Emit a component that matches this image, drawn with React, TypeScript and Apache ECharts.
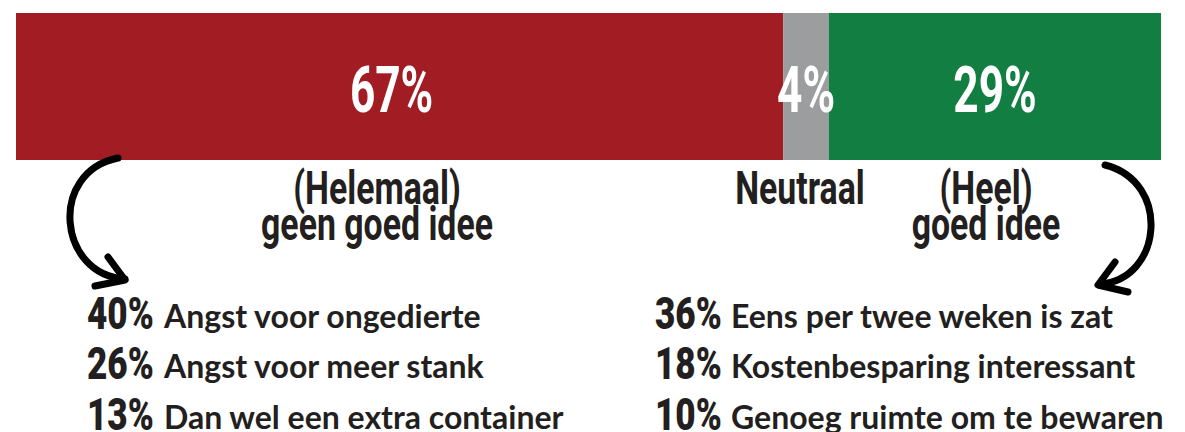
import React, { useEffect, useRef } from "react";
import * as echarts from "echarts";

const categories = ["(Helemaal) geen goed idee", "Neutraal", "(Heel) goed idee"];
const shares = [67, 4, 29];
const colors = ["#A11D23", "#9B9D9F", "#127E41"];

const negPct = [40, 26, 13];
const negLabels = ["Angst voor ongedierte", "Angst voor meer stank", "Dan wel een extra container"];
const posPct = [36, 18, 10];
const posLabels = ["Eens per twee weken is zat", "Kostenbesparing interessant", "Genoeg ruimte om te bewaren"];

const COND = "Roboto, 'DejaVu Sans', sans-serif";
const LATO = "Lato, 'Open Sans', sans-serif";
const INK = "#231F20";

export default function App() {
  const ref = useRef<HTMLDivElement>(null);
  useEffect(() => {
    document.body.style.margin = "0";
    const chart = echarts.init(ref.current!, null, { renderer: "svg" });
    const option: any = {
      animation: false,
      grid: { left: 16, right: 24, top: 13, bottom: 272 },
      xAxis: { type: "value", min: 0, max: 100, show: false },
      yAxis: { type: "category", data: ["score"], show: false },
      series: shares.map((v, i) => ({
        name: categories[i],
        type: "bar",
        stack: "total",
        barWidth: "100%",
        data: [v],
        itemStyle: { color: colors[i] },
        label: { show: false },
      })),
    };
    chart.setOption(option);

    const graphics: any[] = [];
    let cum = 0;
    shares.forEach((v) => {
      const [px] = chart.convertToPixel({ gridIndex: 0 }, [cum + v / 2, 0]) as number[];
      cum += v;
      graphics.push({
        type: "text",
        z: 100,
        x: px - (v > 50 ? 8 : 0),
        y: 90,
        scaleX: 0.68,
        style: {
          text: v + "%",
          font: "bold 65px " + COND,
          fill: "#ffffff",
          align: "center",
          verticalAlign: "middle",
        },
      });
    });

    const catText = (x: number, y: number, t: string) => ({
      type: "text",
      z: 100,
      x,
      y,
      scaleX: 0.72,
      style: { text: t, font: "bold 47px " + COND, fill: INK, align: "center", verticalAlign: "middle" },
    });
    graphics.push(catText(377, 188, "(Helemaal)"));
    graphics.push(catText(377, 224, "geen goed idee"));
    graphics.push(catText(800, 188, "Neutraal"));
    graphics.push(catText(986, 188, "(Heel)"));
    graphics.push(catText(986, 224, "goed idee"));

    const rowY = [315, 365.5, 416];
    const list = (nx: number, tx: number, pcts: number[], labels: string[]) => {
      pcts.forEach((p, i) => {
        graphics.push({
          type: "text",
          z: 100,
          x: nx,
          y: rowY[i] - 1.5,
          scaleX: 0.78,
          style: { text: p + "%", font: "900 45px " + COND, fill: INK, align: "left", verticalAlign: "middle" },
        });
        graphics.push({
          type: "text",
          z: 100,
          x: tx,
          y: rowY[i],
          style: { text: labels[i], font: "bold 32px " + LATO, fill: INK, align: "left", verticalAlign: "middle" },
        });
      });
    };
    list(87, 164, negPct, negLabels);
    list(655, 731, posPct, posLabels);

    const arrowStyle = { stroke: "#000000", lineWidth: 7, lineCap: "round", lineJoin: "round", fill: null };
    graphics.push({
      type: "bezierCurve",
      z: 100,
      shape: { x1: 118, y1: 158, cpx1: 48, cpy1: 172, cpx2: 58, cpy2: 275, x2: 125, y2: 279 },
      style: arrowStyle,
    });
    graphics.push({
      type: "polyline",
      z: 100,
      shape: { points: [[108, 257], [125, 280], [95, 286]] },
      style: arrowStyle,
    });
    graphics.push({
      type: "bezierCurve",
      z: 100,
      shape: { x1: 1105, y1: 165, cpx1: 1172, cpy1: 182, cpx2: 1162, cpy2: 280, x2: 1100, y2: 284 },
      style: arrowStyle,
    });
    graphics.push({
      type: "polyline",
      z: 100,
      shape: { points: [[1115, 262], [1098, 285], [1128, 292]] },
      style: arrowStyle,
    });

    chart.setOption({ graphic: graphics });
    return () => chart.dispose();
  }, []);
  return <div ref={ref} style={{ width: 1185, height: 432 }} />;
}
